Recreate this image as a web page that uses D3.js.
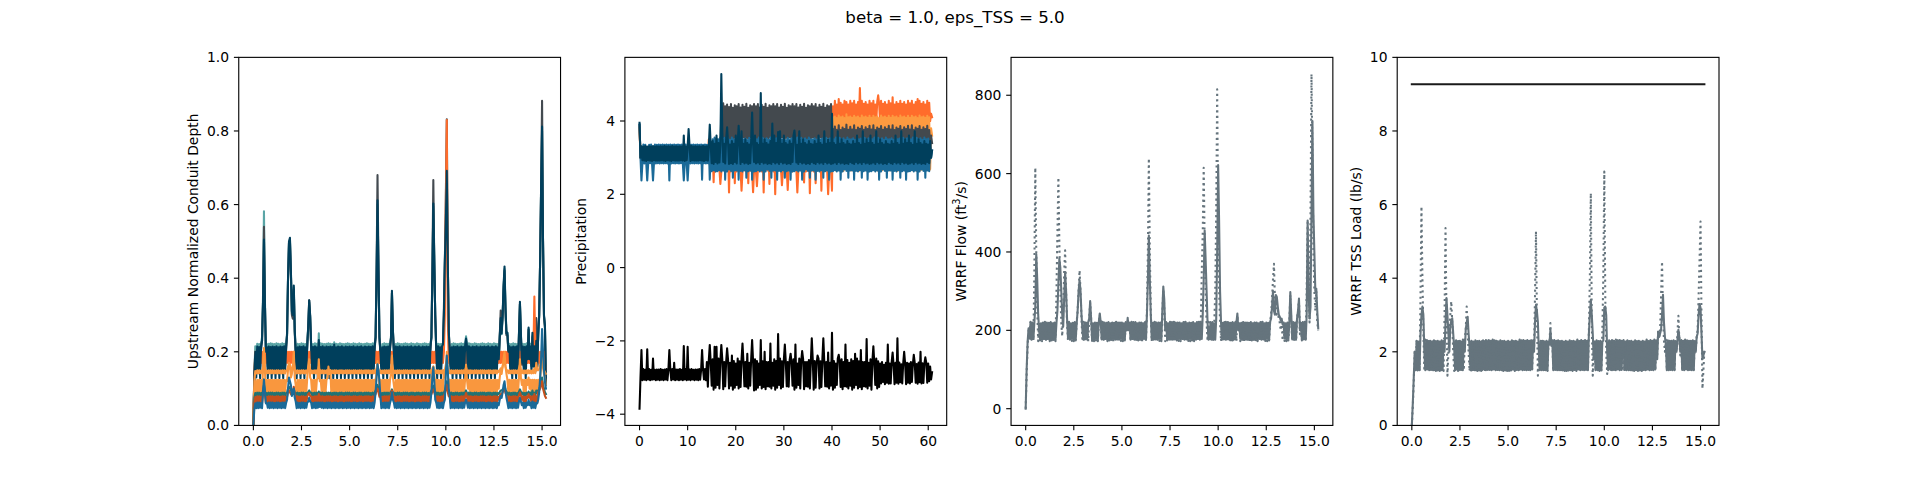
<!DOCTYPE html>
<html><head><meta charset="utf-8">
<script src="https://cdn.jsdelivr.net/npm/d3@7"></script>
<style>
body{margin:0;background:#fff}
svg text{font-family:"DejaVu Sans",sans-serif;fill:#000}
</style>
</head><body>
<svg id="c" width="1910" height="478" xmlns="http://www.w3.org/2000/svg"></svg>
<script>
const parse = s => s.trim().split(/[\s,]+/).filter(v => v !== "").map(Number);

// ---------------- Titles / labels ----------------
const suptitle = "beta = 1.0, eps_TSS = 5.0";
const yLabels = ["Upstream Normalized Conduit Depth", "Precipitation", "WRRF Flow (ft|3|/s)", "WRRF TSS Load (lb/s)"];

// ---------------- Tick values ----------------
const xTicksDays = [0, 2.5, 5, 7.5, 10, 12.5, 15];
const xTicksPrecip = [0, 10, 20, 30, 40, 50, 60];
const yTicksDepth = [0, 0.2, 0.4, 0.6, 0.8, 1.0];
const yTicksPrecip = [-4, -2, 0, 2, 4];
const yTicksFlow = [0, 200, 400, 600, 800];
const yTicksTSS = [0, 2, 4, 6, 8, 10];

// sampling step of the series (time units per sample); one text row = 20 samples
const stepDays = 0.05;    // panels 1,3,4
const stepPrecip = 0.2;   // panel 2

// ---------------- Panel 1: normalized conduit depth (thousandths) ----------------
const depthLightTeal = parse(`
10,145,215,168,222,165,221,167,223,240,350,582,340,205,221,166,222,165,223,167
222,165,221,167,223,165,222,166,221,165,223,167,222,165,221,245,395,495,505,415
305,295,375,255,205,165,222,166,221,165,223,167,222,165,221,166,225,265,335,295
222,165,221,167,223,165,222,166,250,165,223,167,222,165,221,166,222,165,223,167
222,165,221,167,226,165,222,166,221,165,223,167,222,165,221,166,222,165,223,167
222,165,221,167,223,165,222,166,221,165,223,167,222,165,221,166,222,165,223,167
222,165,221,167,223,165,222,238,395,600,415,238,205,166,221,165,223,167,222,165
222,165,221,238,360,255,205,166,221,165,223,167,222,165,221,166,222,165,223,167
222,165,221,167,223,165,222,166,221,165,223,167,222,165,221,166,222,165,223,167
222,165,221,167,223,238,395,595,445,295,212,167,222,165,221,166,222,222,295,440
540,680,445,255,205,166,221,165,223,167,222,165,221,166,222,165,223,167,222,165
222,242,221,167,223,165,222,166,221,165,223,167,222,165,221,166,222,165,223,167
222,165,221,167,223,165,222,166,221,165,223,167,222,165,221,182,240,285,248,295
375,425,315,250,250,205,222,166,221,165,223,167,222,165,221,166,248,330,248,175
222,165,221,167,223,182,262,182,222,165,245,165,222,165,228,165,248,295,445,640
800,495,298,268,118`);
const depthGray = parse(`
5,130,190,160,205,161,204,160,206,230,330,540,330,200,204,160,205,161,204,160
205,161,204,160,206,161,205,160,204,161,205,160,206,161,204,245,395,495,500,410
300,290,370,250,195,161,205,160,204,161,205,160,206,161,204,160,215,265,340,295
215,161,204,160,206,161,205,160,226,161,205,160,206,161,204,160,205,161,204,160
205,161,204,160,210,161,205,160,204,161,205,160,206,161,204,160,205,161,204,160
205,161,204,160,206,161,205,160,204,161,205,160,206,161,204,160,205,161,204,160
205,161,204,160,206,161,205,240,420,680,430,240,195,160,204,161,205,160,206,161
205,161,204,235,360,255,200,160,204,161,205,160,206,161,204,160,205,161,204,160
205,161,204,160,206,161,205,160,204,161,205,160,206,161,204,160,205,161,204,160
205,161,204,160,206,240,420,667,440,295,205,160,206,161,204,160,205,215,320,450
620,832,450,255,200,161,205,160,204,161,205,160,206,161,204,160,205,161,204,160
205,230,204,160,206,161,205,160,204,161,205,160,206,161,204,160,205,161,204,160
205,161,204,160,206,161,205,160,204,161,205,160,206,161,204,175,240,312,260,295
370,420,310,245,245,195,205,160,204,161,205,160,206,161,204,160,245,330,245,165
205,161,204,160,206,175,260,175,205,161,240,160,206,161,292,160,245,300,450,640
882,500,295,265,110`);
const depthBrightOrange = parse(`
5,140,200,170,200,170,200,170,200,170,200,180,200,170,200,170,200,170,200,170
200,170,200,170,200,170,200,170,200,170,200,170,200,170,200,170,200,170,200,170
200,170,200,170,200,170,200,170,200,170,200,170,200,170,200,170,200,170,200,170
200,170,200,170,200,170,200,170,200,170,200,170,200,170,200,170,200,170,200,170
200,170,200,170,200,170,200,170,200,170,200,170,200,170,200,170,200,170,200,170
200,170,200,170,200,170,200,170,200,170,200,170,200,170,200,170,200,170,200,170
200,170,200,170,200,170,200,170,200,170,200,170,200,170,200,170,200,170,200,170
200,170,200,170,200,170,200,170,200,170,200,170,200,170,200,170,200,170,200,170
200,170,200,170,200,170,200,170,200,170,200,170,200,170,200,170,200,170,200,170
200,170,200,170,200,170,200,170,200,170,200,170,200,170,200,170,200,170,200,300
600,830,300,170,200,170,200,170,200,170,200,170,200,170,200,170,200,170,200,170
200,170,200,170,200,170,200,170,200,170,200,170,200,170,200,170,200,170,200,170
200,170,200,170,200,170,200,170,200,170,200,170,200,170,200,170,200,170,200,170
200,170,200,170,200,170,200,170,200,170,200,170,200,170,200,170,200,170,200,170
200,170,200,170,200,170,200,170,200,170,200,200,350,200,200,170,200,170,200,170
200,170,200,170,150`);
const depthNavy = parse(`
5,140,200,130,214,146,213,128,215,230,330,505,330,200,212,128,214,146,213,128
214,146,213,128,215,146,212,128,214,146,213,128,215,146,212,250,400,500,510,420
310,300,380,260,200,128,212,146,214,128,213,146,215,128,212,146,220,270,340,300
220,146,213,128,215,146,212,128,232,146,213,128,215,146,212,128,214,146,213,128
214,146,213,128,220,146,212,128,214,146,213,128,215,146,212,128,214,146,213,128
214,146,213,128,215,146,212,128,214,146,213,128,215,146,212,128,214,146,213,128
214,146,213,128,215,146,212,240,400,612,420,240,200,146,212,128,214,146,213,128
214,146,213,240,366,260,200,128,214,146,213,128,215,146,212,128,214,146,213,128
214,146,213,128,215,146,212,128,214,146,213,128,215,146,212,128,214,146,213,128
214,146,213,128,215,240,400,603,450,300,210,128,215,146,212,128,214,220,300,450
550,692,450,260,200,146,212,128,214,146,213,128,215,146,212,128,214,146,213,128
214,236,213,128,215,146,212,128,214,146,213,128,215,146,212,128,214,146,213,128
214,146,213,128,215,146,212,128,214,146,213,128,215,146,212,180,240,292,250,300
380,432,320,250,252,200,215,146,212,128,214,146,213,128,215,146,250,336,250,170
214,146,213,128,215,180,266,180,214,146,252,160,215,146,230,160,250,300,450,650
812,500,300,272,115`);
const depthOrangeB = parse(`
3,90,120,88,124,88,124,90,123,88,150,210,150,88,123,90,124,88,124,89
124,88,123,89,124,88,124,90,123,88,124,89,124,88,123,120,150,170,160,130
140,160,200,130,110,88,124,90,123,88,124,89,124,88,123,90,130,160,180,130
124,88,123,89,124,88,124,130,180,120,124,89,124,88,123,90,124,130,160,140
150,88,123,89,124,88,124,90,123,88,124,89,124,88,123,90,124,88,124,89
124,88,123,89,124,88,124,90,123,88,124,89,124,88,123,90,124,88,124,89
124,88,123,89,124,88,124,120,150,175,140,100,124,88,123,90,124,88,124,89
124,88,123,140,190,130,110,90,123,88,124,89,124,88,123,90,124,88,124,89
124,88,123,89,124,88,124,90,123,88,124,89,124,88,123,90,124,88,124,89
124,88,123,89,124,120,140,160,140,100,124,89,124,88,123,90,124,88,150,130
150,200,140,110,124,88,124,90,123,88,124,89,124,88,123,90,124,88,124,89
124,165,123,100,124,88,124,90,123,88,124,89,124,88,123,90,124,88,124,89
124,88,123,89,124,88,124,90,123,88,124,89,124,88,123,100,130,150,140,160
180,200,160,140,124,88,124,90,123,88,124,89,124,88,123,90,130,180,130,110
124,88,123,89,124,110,130,100,124,88,124,89,124,88,123,90,124,110,130,160
200,160,140,130,110`);
const depthOrangeA = parse(`
5,120,148,141,150,141,150,142,149,141,160,190,160,141,149,142,150,141,150,142
150,141,149,142,150,141,150,142,149,141,150,142,150,141,149,150,160,165,165,155
150,160,175,150,150,141,150,142,149,141,150,142,150,141,149,142,150,155,165,150
150,141,149,142,150,141,150,142,160,141,150,142,150,141,149,142,150,141,150,142
150,141,149,142,150,141,150,142,149,141,150,142,150,141,149,142,150,141,150,142
150,141,149,142,150,141,150,142,149,141,150,142,150,141,149,142,150,141,150,142
150,141,149,142,150,141,150,142,155,160,150,142,150,141,149,142,150,141,150,142
150,141,149,155,165,150,150,142,149,141,150,142,150,141,149,142,150,141,150,142
150,141,149,142,150,141,150,142,149,141,150,142,150,141,149,142,150,141,150,142
150,141,149,142,150,141,155,160,150,142,150,142,150,141,149,142,150,141,150,150
165,175,150,141,150,141,150,142,149,141,150,142,150,141,149,142,150,141,150,142
150,158,149,142,150,141,150,142,149,141,150,142,150,141,149,142,150,141,150,142
150,141,149,142,150,141,150,142,149,141,150,142,150,141,149,145,150,155,150,160
170,175,160,150,150,142,150,141,149,142,150,141,150,142,149,141,155,165,150,142
150,141,149,142,150,141,150,142,149,141,150,142,155,142,170,150,150,155,165,170
180,160,150,145,140`);
const depthTeal = parse(`
3,75,88,79,89,79,89,80,88,79,95,110,95,79,88,80,89,79,89,80
89,79,88,80,89,79,89,80,88,79,89,80,89,79,88,88,100,105,100,95
92,95,100,90,89,79,89,80,88,79,89,80,89,79,88,80,89,90,95,89
89,79,88,80,89,79,89,80,92,79,89,80,89,79,88,80,89,79,89,80
89,79,88,80,89,79,89,80,88,79,89,80,89,79,88,80,89,79,89,80
89,79,88,80,89,79,89,80,88,79,89,80,89,79,88,80,89,79,89,80
89,79,88,80,89,79,89,95,100,110,100,88,89,79,88,80,89,79,89,80
89,79,88,92,98,90,89,80,88,79,89,80,89,79,88,80,89,79,89,80
89,79,88,80,89,79,89,80,88,79,89,80,89,79,88,80,89,79,89,80
89,79,88,80,89,95,100,108,100,89,89,80,89,79,88,80,89,79,89,95
110,120,100,89,89,79,89,80,88,79,89,80,89,79,88,80,89,79,89,80
89,95,88,80,89,79,89,80,88,79,89,80,89,79,88,80,89,79,89,80
89,79,88,80,89,79,89,80,88,79,89,80,89,79,88,85,90,95,95,98
100,108,98,92,89,79,89,80,88,79,89,80,89,79,88,80,92,98,92,85
89,79,88,80,89,85,92,85,89,79,95,80,89,79,95,88,95,100,110,115
130,110,100,90,85`);
const depthBrown = parse(`
2,60,77,61,79,61,79,62,78,61,85,100,85,61,78,62,79,61,79,62
79,61,78,62,79,61,79,62,78,61,79,62,79,61,78,78,90,95,90,85
82,90,105,85,80,61,79,62,78,61,79,62,79,61,78,62,79,85,88,80
79,61,78,62,79,61,79,62,85,61,79,62,79,61,78,62,79,61,79,62
79,61,78,62,79,61,79,62,78,61,79,62,79,61,78,62,79,61,79,62
79,61,78,62,79,61,79,62,78,61,79,62,79,61,78,62,79,61,79,62
79,61,78,62,79,61,79,85,95,100,90,78,79,61,78,62,79,61,79,62
79,61,78,85,95,85,79,62,78,61,79,62,79,61,78,62,79,61,79,62
79,61,78,62,79,61,79,62,78,61,79,62,79,61,78,62,79,61,79,62
79,61,78,62,79,85,92,98,90,79,79,62,79,61,78,62,79,61,79,88
100,110,90,79,79,61,79,62,78,61,79,62,79,61,78,62,79,61,79,62
79,88,78,62,79,61,79,62,78,61,79,62,79,61,78,62,79,61,79,62
79,61,78,62,79,61,79,62,78,61,79,62,79,61,78,70,80,85,85,90
95,100,88,82,78,61,79,62,78,61,79,62,79,61,78,62,82,90,82,70
79,61,78,62,79,75,85,75,79,61,79,62,85,61,79,62,90,95,100,110
120,100,90,80,75`);
const depthBlue = parse(`
2,45,60,47,62,47,62,48,61,47,90,125,90,60,61,48,62,47,62,48
62,47,61,48,62,47,62,48,61,47,62,48,62,47,61,70,100,130,120,110
80,90,100,75,65,47,62,48,61,47,62,48,62,47,61,48,62,65,75,65
62,47,61,48,62,47,62,48,62,50,62,48,62,47,61,48,62,47,62,48
62,47,61,48,62,47,62,48,61,47,62,48,62,47,61,48,62,47,62,48
62,47,61,48,62,47,62,48,61,47,62,48,62,47,61,48,62,47,62,48
62,47,61,48,62,47,62,90,130,166,150,120,80,47,61,48,62,47,62,48
62,47,61,70,90,70,62,48,61,47,62,48,62,47,61,48,62,47,62,48
62,47,61,48,62,47,62,48,61,47,62,48,62,47,61,48,62,47,62,48
62,47,61,48,62,90,130,158,120,70,62,48,62,47,61,48,62,47,62,70
140,190,150,100,80,47,62,48,61,47,62,48,62,47,61,48,62,47,62,48
62,70,61,48,62,47,62,48,61,47,62,48,62,47,61,48,62,47,62,48
62,47,61,48,62,47,62,48,61,47,62,48,62,47,61,55,70,80,75,90
110,120,95,75,62,47,62,48,61,47,62,48,62,47,61,48,65,75,65,55
62,47,61,48,62,55,70,55,62,47,65,48,62,47,61,60,70,90,130,180
262,200,150,120,100`);

// ---------------- Panel 2: precipitation (hundredths) ----------------
const precipOrange = parse(`
380,300,320,296,321,295,320,296,321,295,320,296,321,295,320,296,321,295,320,296
320,296,321,295,320,296,321,295,320,296,321,295,320,296,321,295,320,296,321,295
320,296,321,295,320,296,321,295,320,296,321,295,320,296,321,295,320,296,321,295
320,296,321,295,320,296,321,295,320,296,321,295,350,296,321,265,325,233,320,262
320,265,325,270,228,262,318,266,325,262,320,268,322,205,318,262,325,266,320,230
318,262,325,266,320,268,210,262,318,266,325,262,320,230,322,265,318,262,206,266
325,262,222,268,322,265,318,262,325,205,320,268,322,265,318,228,325,266,320,262
322,200,318,262,325,266,320,268,225,265,318,262,325,266,212,268,322,265,318,262
320,268,322,265,205,262,325,266,320,268,322,232,318,262,325,266,320,203,322,265
318,262,325,230,320,268,322,265,318,210,325,266,320,268,322,265,200,262,325,266
210,440,400,455,395,445,400,460,398,450,395,445,402,455,398,452,400,445,396,455
400,448,396,455,400,445,398,452,400,490,398,455,400,447,395,452,400,445,396,455
400,448,396,455,400,445,398,452,470,447,398,455,400,447,395,452,400,445,396,455
400,448,396,465,400,445,398,452,400,447,398,455,400,447,395,452,400,445,396,455
400,448,396,455,400,445,398,452,400,460,398,455,400,447,395,452,400,445,396,455
398,450,400,420,410`);
const precipLightOrange = parse(`
385,300,322,294,323,293,322,294,323,293,322,294,323,293,322,294,323,293,322,294
322,294,323,293,322,294,323,293,322,294,323,293,322,294,323,293,322,294,323,293
322,294,323,293,322,294,323,293,322,294,323,293,322,294,323,293,322,294,323,293
322,294,323,293,322,294,323,293,322,294,323,293,330,280,325,272,330,270,332,268
330,272,326,270,333,268,330,272,328,266,332,270,330,268,334,265,330,272,326,268
330,272,326,270,333,268,330,272,328,266,332,270,330,268,334,265,330,272,326,268
330,272,326,270,333,268,330,272,328,266,332,270,330,268,334,265,330,272,326,268
330,272,326,270,333,268,330,272,328,266,332,270,330,268,334,265,330,272,326,268
330,272,326,270,333,268,330,272,328,266,332,270,330,268,334,265,330,272,326,268
330,272,326,270,333,268,330,272,328,266,332,270,330,268,334,265,330,272,326,268
262,410,268,412,265,408,270,415,266,410,268,412,264,408,270,418,266,410,268,412
265,409,270,414,266,410,268,412,264,408,270,415,266,410,268,412,265,409,270,414
265,409,270,414,266,410,268,412,264,408,270,415,266,410,268,412,265,409,270,414
265,409,270,414,266,410,268,412,264,408,270,415,266,410,268,412,265,409,270,414
265,409,270,414,266,410,268,412,264,408,270,415,266,410,268,412,265,409,270,414
266,410,268,380,360`);
const precipGray = parse(`
390,300,325,298,326,297,325,298,326,297,325,298,326,297,325,298,326,297,325,298
325,298,326,297,325,298,326,297,325,298,326,297,325,298,326,297,325,298,326,297
325,298,326,297,325,298,326,297,325,298,326,297,325,298,326,297,325,298,326,297
325,298,326,297,325,298,326,297,325,298,326,297,325,298,326,297,325,298,326,297
325,298,326,297,325,420,352,448,355,440,352,445,356,438,350,446,354,436,352,443
356,440,350,446,354,437,352,444,356,439,350,447,354,436,352,443,356,440,350,446
356,440,350,446,354,437,352,444,356,439,350,447,354,436,352,443,356,440,350,446
356,440,350,446,354,437,352,444,356,439,350,447,354,436,352,443,356,440,350,446
356,440,350,446,354,437,352,444,356,439,350,447,354,436,352,443,356,440,350,446
356,440,350,446,354,437,352,444,356,439,350,447,354,436,352,443,356,440,350,446
300,378,332,385,330,376,334,388,331,375,333,382,330,378,334,390,331,376,333,384
330,377,334,388,331,375,333,382,330,379,334,386,331,376,333,383,330,378,334,387
330,377,334,388,331,375,333,382,330,379,334,386,331,376,333,383,330,378,334,387
330,377,334,388,331,375,333,382,330,379,334,386,331,376,333,383,330,378,334,387
330,377,334,388,331,375,333,382,330,379,334,386,331,376,333,383,330,378,334,387
331,375,333,360,340`);
const precipBlue = parse(`
390,300,238,285,336,284,335,285,238,284,335,285,336,284,238,285,336,284,335,285
336,284,335,285,336,284,335,285,336,284,335,238,336,284,335,285,336,284,335,285
336,284,335,285,336,284,238,285,336,284,238,285,336,284,335,285,336,284,335,285
336,284,335,285,336,240,335,285,336,284,335,285,336,240,335,263,350,266,355,262
352,263,350,266,355,262,348,265,354,240,350,262,353,268,349,264,355,245,350,265
350,265,353,240,349,264,355,262,350,266,352,245,348,263,354,265,350,240,353,262
352,263,350,266,355,262,348,265,354,240,350,262,353,268,349,264,355,245,350,265
350,265,353,240,349,264,355,262,350,266,352,245,348,263,354,265,350,240,353,262
352,263,350,266,355,262,348,265,354,240,350,262,353,268,349,264,355,245,350,265
350,265,353,240,349,264,355,262,350,266,352,245,348,263,354,265,350,240,353,262
352,263,350,266,355,262,348,265,354,240,350,262,353,268,349,264,355,245,350,265
350,265,353,240,349,264,355,262,350,266,352,245,348,263,354,265,350,240,353,262
352,263,350,266,355,262,348,265,354,240,350,262,353,268,349,264,355,245,350,265
350,265,353,240,349,264,355,262,350,266,352,245,348,263,354,265,350,240,353,262
352,263,350,266,355,262,348,265,354,240,350,262,353,268,349,264,355,245,350,265
352,263,340,300,320`);
const precipNavy = parse(`
395,300,331,293,330,292,332,291,330,293,331,292,330,291,332,293,330,292,331,292
330,292,331,293,330,292,332,291,330,293,331,292,330,291,332,293,330,292,331,292
330,292,331,293,330,292,360,291,330,293,331,378,330,291,332,293,330,292,331,292
330,292,331,293,330,292,332,291,330,293,331,292,330,390,332,285,345,283,338,288
360,284,340,287,335,528,372,288,338,284,350,383,340,283,336,285,345,283,338,288
360,284,340,387,335,283,372,288,338,284,350,286,340,283,336,285,345,423,338,288
360,284,340,287,335,283,476,288,338,284,350,286,340,283,336,285,345,283,393,288
360,284,340,287,370,283,372,288,338,284,360,286,340,283,336,285,345,283,338,288
360,374,340,287,335,283,372,288,338,284,350,286,340,283,336,285,345,283,338,288
336,285,345,283,338,288,360,284,340,287,335,283,372,288,338,284,350,286,340,283
420,284,340,287,335,283,372,288,338,284,350,286,340,283,336,285,345,283,338,288
336,285,345,283,338,288,360,284,340,287,335,283,372,288,338,284,350,286,340,283
360,284,340,287,335,283,372,288,338,284,350,286,340,283,336,285,345,283,338,288
336,285,345,283,338,288,360,284,340,287,335,283,372,288,338,284,350,286,340,283
360,284,340,287,335,283,372,288,338,284,350,286,340,283,336,285,345,283,338,288
336,285,345,300,320`);
const precipBlack = parse(`
-385,-300,-225,-307,-277,-306,-279,-307,-223,-305,-277,-307,-279,-306,-248,-305,-279,-307,-278,-306
-278,-307,-277,-306,-279,-307,-278,-305,-277,-307,-279,-225,-278,-307,-277,-305,-260,-307,-278,-306
-278,-307,-277,-306,-279,-307,-214,-305,-277,-307,-216,-306,-278,-307,-277,-305,-279,-307,-278,-306
-278,-307,-277,-306,-279,-225,-278,-305,-277,-307,-258,-325,-252,-211,-260,-322,-250,-333,-216,-328
-216,-320,-248,-330,-256,-211,-250,-332,-258,-324,-258,-220,-252,-330,-260,-322,-240,-333,-255,-328
-262,-320,-248,-330,-256,-326,-250,-207,-258,-324,-258,-325,-235,-330,-260,-322,-250,-198,-255,-335
-250,-333,-255,-328,-262,-320,-198,-330,-256,-326,-230,-332,-258,-324,-258,-325,-207,-330,-260,-322
-250,-333,-255,-328,-181,-320,-248,-330,-256,-326,-250,-210,-258,-324,-258,-325,-252,-235,-260,-322
-250,-333,-210,-328,-262,-320,-248,-330,-256,-228,-250,-332,-258,-324,-258,-325,-252,-330,-260,-193
-250,-333,-255,-328,-262,-240,-248,-330,-256,-326,-250,-193,-258,-324,-258,-325,-232,-330,-260,-322
-178,-333,-255,-328,-262,-320,-248,-238,-256,-326,-250,-332,-258,-324,-210,-325,-252,-330,-260,-322
-250,-333,-255,-328,-235,-320,-248,-330,-256,-326,-225,-332,-258,-324,-258,-325,-195,-330,-260,-322
-250,-333,-255,-215,-262,-320,-248,-330,-256,-326,-262,-316,-258,-312,-265,-318,-260,-314,-210,-317
-262,-316,-258,-232,-265,-318,-260,-314,-193,-317,-259,-313,-264,-316,-261,-230,-262,-318,-260,-314
-262,-316,-258,-312,-265,-238,-260,-314,-263,-317,-259,-313,-230,-316,-261,-315,-262,-245,-260,-314
-262,-310,-270,-305,-285`);

// ---------------- Panel 3: WRRF flow (ft3/s) ----------------
const flowSolid = parse(`
0,100,170,205,180,220,176,218,178,219,260,395,330,240,200,177,218,176,220,178
220,176,218,178,219,176,221,177,218,176,220,178,219,250,320,383,360,300,240,210
280,349,300,230,180,220,176,218,178,219,176,221,177,218,250,300,328,300,240,200
176,220,178,219,176,221,230,275,230,177,218,176,220,178,219,176,221,243,220,177
220,176,218,178,219,176,221,177,218,176,220,178,219,176,221,177,218,176,220,178
220,176,218,178,219,200,232,200,218,176,220,178,219,176,221,177,218,176,220,178
220,176,218,178,219,176,240,330,442,330,240,178,219,176,221,177,218,176,220,178
220,176,250,312,280,200,221,177,218,176,220,178,219,176,221,177,218,176,220,178
220,176,218,178,219,176,221,177,218,176,220,178,219,176,221,177,218,176,220,178
220,176,218,178,240,330,455,380,300,220,176,178,219,176,221,177,218,176,230,400
622,480,300,220,176,219,177,221,176,218,178,220,176,219,177,221,176,218,178,220
243,200,218,178,219,176,221,177,218,176,220,178,219,176,221,177,218,176,220,178
220,176,218,178,219,176,221,177,218,176,220,178,219,176,221,230,260,300,250,240
290,285,260,240,235,225,230,215,220,180,218,176,220,178,219,298,240,177,218,176
220,178,230,250,281,200,219,176,221,177,218,176,240,480,300,230,260,500,734,500
400,300,306,250,205`);
const flowDotted = parse(`
0,90,160,200,176,222,172,220,174,350,615,400,250,172,221,174,222,172,220,174
222,172,220,174,221,172,222,174,220,173,222,172,300,450,590,420,300,220,185,250
350,404,300,220,172,222,174,220,173,222,172,221,174,222,250,300,353,300,230,172
222,172,220,174,221,172,230,270,230,173,222,172,221,174,222,172,220,240,221,173
222,172,220,174,221,172,222,174,220,173,222,172,221,174,222,172,220,174,221,173
222,172,220,174,221,200,228,200,220,173,222,172,221,174,222,172,220,174,221,173
222,172,220,174,221,172,250,400,639,400,250,172,221,174,222,172,220,174,221,173
222,172,240,305,260,172,222,174,220,173,222,172,221,174,222,172,220,174,221,173
222,172,220,174,221,172,222,174,220,173,222,172,221,174,222,172,220,174,221,173
222,172,220,350,450,615,420,300,220,173,222,172,221,174,222,172,220,300,500,815
450,300,220,172,222,174,220,173,222,172,221,174,222,172,220,174,221,173,222,172
238,195,222,172,221,174,222,172,220,174,221,173,222,172,220,174,221,173,222,172
222,172,220,174,221,172,222,174,220,173,222,172,221,174,222,240,280,330,370,280
270,240,250,230,220,200,222,174,220,173,222,172,221,174,222,290,220,174,221,173
222,172,230,250,278,190,222,174,220,173,222,172,300,475,300,220,500,854,650,400
300,250,300,220,200`);

// ---------------- Panel 4: WRRF TSS load (hundredths lb/s) ----------------
const tssSolid = parse(`
0,60,130,200,150,230,151,228,150,250,300,323,300,200,150,231,152,229,150,230
151,228,150,231,152,229,150,230,151,228,150,231,152,229,200,280,346,300,250,200
270,285,291,250,210,150,231,152,229,150,230,151,228,150,231,200,260,280,295,250
210,150,230,151,228,150,231,152,229,150,230,151,228,150,231,152,229,150,230,151
230,151,228,150,231,152,229,150,230,151,228,150,231,152,229,150,230,151,228,150
230,151,228,150,231,152,229,150,230,151,228,150,231,152,229,150,230,151,228,150
230,151,228,150,231,152,229,200,280,328,310,280,200,150,229,150,230,151,228,150
230,151,228,220,260,220,229,150,230,151,228,150,231,152,229,150,230,151,228,150
230,151,228,150,231,152,229,150,230,151,228,150,231,152,229,150,230,151,228,150
230,151,228,150,250,300,341,300,250,180,228,150,231,152,229,150,230,151,228,230
320,323,300,200,150,231,152,229,150,230,151,228,150,231,152,229,150,230,151,228
230,151,228,150,231,152,229,150,230,151,228,150,231,152,229,150,230,151,228,150
230,151,228,150,231,152,229,150,230,151,228,150,231,152,229,180,255,240,250,260
300,355,280,240,220,150,229,150,230,151,228,150,231,152,229,200,230,260,240,200
230,151,228,150,231,152,229,150,230,151,228,150,231,152,229,200,240,250,300,330
320,250,180,190,200`);
const tssDotted = parse(`
0,50,120,200,148,232,149,230,148,350,595,400,250,148,233,150,231,148,232,149
230,148,233,150,231,148,232,149,230,148,233,150,231,148,300,536,300,135,200,250
300,337,280,200,148,233,150,231,148,232,149,230,148,233,150,231,260,323,250,200
148,232,149,230,148,233,150,231,148,232,149,230,148,233,150,231,148,232,149,230
232,148,230,149,233,150,231,148,232,149,230,148,233,150,231,148,232,149,230,148
232,148,230,149,233,150,231,148,232,149,230,148,233,150,231,148,232,149,230,148
232,148,230,149,233,150,231,210,350,527,300,135,200,149,230,148,233,150,231,148
232,148,230,220,278,210,231,148,232,149,230,148,233,150,231,148,232,149,230,148
232,148,230,149,233,150,231,148,232,149,230,148,233,150,231,148,232,149,230,148
232,148,230,149,260,400,631,280,135,200,230,148,233,150,231,148,232,149,260,400
690,350,200,140,200,150,231,148,232,149,230,148,233,150,231,148,232,149,230,148
232,148,230,149,233,150,231,148,232,149,230,148,233,150,231,148,232,149,230,148
232,148,230,149,233,150,231,148,232,149,230,148,233,150,231,190,260,240,260,350
445,300,230,200,233,150,231,148,232,149,230,148,233,150,231,200,250,298,230,190
232,148,230,149,233,150,231,148,232,149,230,148,233,150,231,200,240,260,350,450
554,300,100,150,205`);
const tssLimitT = [0, 15.2];
const tssLimit = [9.27, 9.27];

// ---------------- Layout ----------------
const svg = d3.select("#c");
const FS = 13.89;
const axTop = 57.36, axBottom = 425.42;
const axW = 1480.25 / 4.6, axGap = axW * 0.2;
const lefts = [0, 1, 2, 3].map(k => 238.75 + k * (axW + axGap));

svg.append("text").attr("x", 955).attr("y", 22.5).attr("text-anchor", "middle")
  .style("font-size", "16.67px").text(suptitle);

function padExtent(vals) {
  const [a, b] = d3.extent(vals);
  const p = (b - a) * 0.05;
  return [a - p, b + p];
}

function panel(k, xDom, yDom, xTicks, xFmt, yTicks, yFmt, label, series) {
  const L = lefts[k], R = L + axW;
  const x = d3.scaleLinear().domain(xDom).range([L, R]);
  const y = d3.scaleLinear().domain(yDom).range([axBottom, axTop]);
  const g = svg.append("g");
  const cid = "clip" + k;
  svg.append("clipPath").attr("id", cid).append("rect")
    .attr("x", L).attr("y", axTop).attr("width", axW).attr("height", axBottom - axTop);
  const lg = g.append("g").attr("clip-path", `url(#${cid})`);
  series.forEach(s => {
    const line = d3.line()
      .x((d, i) => x(s.t ? s.t[i] : i * s.step))
      .y(d => y(d / s.div));
    const p = lg.append("path").attr("d", line(s.v)).attr("fill", "none")
      .attr("stroke", s.c).attr("stroke-width", s.w || 2.08)
      .attr("stroke-linejoin", "round");
    if (s.dash) p.attr("stroke-dasharray", s.dash).attr("stroke-linecap", "butt");
    else p.attr("stroke-linecap", "square");
  });
  // frame
  g.append("rect").attr("x", L).attr("y", axTop).attr("width", axW).attr("height", axBottom - axTop)
    .attr("fill", "none").attr("stroke", "#000").attr("stroke-width", 1.11);
  // x ticks
  xTicks.forEach(t => {
    const px = x(t);
    g.append("line").attr("x1", px).attr("x2", px).attr("y1", axBottom).attr("y2", axBottom + 4.86)
      .attr("stroke", "#000").attr("stroke-width", 1.11);
    g.append("text").attr("x", px).attr("y", axBottom + 20.4).attr("text-anchor", "middle")
      .style("font-size", FS + "px").text(xFmt(t));
  });
  const yl = g.append("g");
  yTicks.forEach(t => {
    const py = y(t);
    g.append("line").attr("x1", L - 4.86).attr("x2", L).attr("y1", py).attr("y2", py)
      .attr("stroke", "#000").attr("stroke-width", 1.11);
    yl.append("text").attr("x", L - 9.72).attr("y", py + 5.05).attr("text-anchor", "end")
      .style("font-size", FS + "px").text(yFmt(t));
  });
  const bb = yl.node().getBBox();
  const bx = bb.x - 5.56 - 3.3;
  const cy = (axTop + axBottom) / 2;
  const txt = g.append("text").attr("transform", `translate(${bx},${cy}) rotate(-90)`)
    .attr("text-anchor", "middle").style("font-size", FS + "px");
  const parts = label.split("|");
  if (parts.length === 3) {
    txt.append("tspan").text(parts[0]);
    txt.append("tspan").attr("dy", -5.5).style("font-size", "9.7px").text(parts[1]);
    txt.append("tspan").attr("dy", 5.5).text(parts[2]);
  } else txt.text(label);
}

const f1 = d3.format(".1f"), f0 = d3.format("d");
const dayDom = padExtent([0, (depthNavy.length - 1) * stepDays]);

panel(0, dayDom, [0, 1], xTicksDays, f1, yTicksDepth, f1, yLabels[0], [
  {v: depthLightTeal, c: "#5aa5a6", step: stepDays, div: 1000},
  {v: depthGray, c: "#434a50", step: stepDays, div: 1000},
  {v: depthBrightOrange, c: "#ff6c2b", step: stepDays, div: 1000},
  {v: depthNavy, c: "#003f5c", step: stepDays, div: 1000},
  {v: depthOrangeB, c: "#f9973e", step: stepDays, div: 1000},
  {v: depthOrangeA, c: "#f9973e", step: stepDays, div: 1000},
  {v: depthTeal, c: "#217373", step: stepDays, div: 1000},
  {v: depthBrown, c: "#c44f1c", step: stepDays, div: 1000},
  {v: depthBlue, c: "#1a6a98", step: stepDays, div: 1000}
]);

const precipAll = [].concat(precipOrange, precipLightOrange, precipGray, precipBlue, precipNavy, precipBlack).map(v => v / 100);
panel(1, padExtent([0, (precipNavy.length - 1) * stepPrecip]), padExtent(precipAll),
  xTicksPrecip, f0, yTicksPrecip, f0, yLabels[1], [
  {v: precipOrange, c: "#ff6c2b", step: stepPrecip, div: 100},
  {v: precipLightOrange, c: "#fd9a40", step: stepPrecip, div: 100},
  {v: precipGray, c: "#43494e", step: stepPrecip, div: 100},
  {v: precipBlue, c: "#1a6a98", step: stepPrecip, div: 100},
  {v: precipNavy, c: "#003f5c", step: stepPrecip, div: 100},
  {v: precipBlack, c: "#000000", step: stepPrecip, div: 100}
]);

panel(2, dayDom, padExtent(flowSolid.concat(flowDotted)), xTicksDays, f1, yTicksFlow, f0, yLabels[2], [
  {v: flowSolid, c: "#65747d", step: stepDays, div: 1},
  {v: flowDotted, c: "#65747d", step: stepDays, div: 1, dash: "2.08,3.43"}
]);

panel(3, dayDom, [0, 10], xTicksDays, f1, yTicksTSS, f0, yLabels[3], [
  {v: tssSolid, c: "#65747d", step: stepDays, div: 100},
  {v: tssDotted, c: "#65747d", step: stepDays, div: 100, dash: "2.08,3.43"},
  {v: tssLimit, t: tssLimitT, c: "#1a1a1a", div: 1}
]);
</script>
</body></html>
